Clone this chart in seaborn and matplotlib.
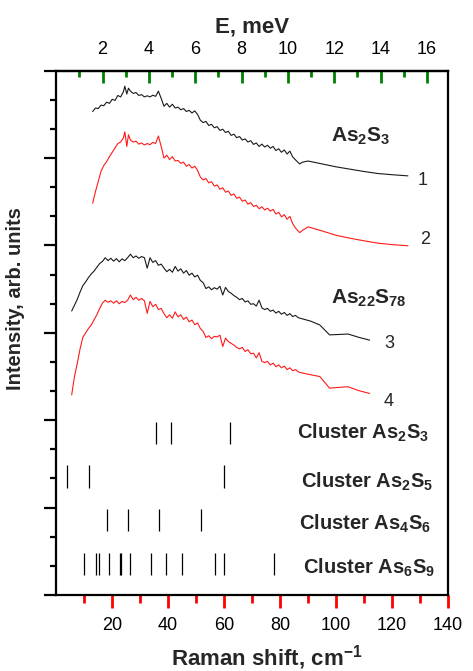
import numpy as np
import pandas as pd
import matplotlib
matplotlib.use("Agg")
import matplotlib.pyplot as plt
from matplotlib.ticker import MultipleLocator, NullFormatter
import seaborn as sns

# ---------------- data ----------------
x_as2s3 = [13, 14, 15, 16, 17, 18, 19, 20, 21, 22, 23, 24, 24.5, 25.2, 25.8,
           26.5, 27.5, 28.5, 29.5, 30.5, 31.5, 32.5, 33.5, 34.5, 35.5, 36.5, 37.5, 38.5, 39.5,
           40.5, 41.5, 42.5, 43.5, 44.5, 45.5, 46.5, 47.5, 48.5, 49.5, 50.5, 51.5, 52.5, 53.5,
           54.5, 55.5, 56.5, 57.5, 58.5, 59.5, 60.5, 61.5, 62.5, 63.5, 64.5, 65.5, 66.5, 67.5,
           68.5, 69.5, 70.5, 71.5, 72.5, 73.5, 74.5, 75.5, 76.5, 77.5, 78.5, 79.5, 80.5, 81.5,
           82.5, 83.5, 84.5, 85.5, 87, 88, 90, 95, 100, 105, 110, 115, 120, 125.7]
y_curve1 = [16.60, 16.72, 16.70, 16.82, 16.80, 16.92, 16.88, 17.02, 16.98, 17.15, 17.10, 17.28,
            17.47, 17.20, 17.40,
            17.30, 17.22, 17.25, 17.15, 17.18, 17.10, 17.14, 17.10, 17.16, 17.12, 17.30, 17.05,
            16.78, 16.88, 16.75, 16.85, 16.72, 16.75, 16.66, 16.70, 16.60, 16.64, 16.55, 16.62,
            16.50, 16.30, 16.22, 16.26, 16.12, 16.16, 16.04, 16.08, 15.95, 15.99, 15.88, 15.92,
            15.78, 15.82, 15.70, 15.74, 15.62, 15.66, 15.55, 15.60, 15.47, 15.52, 15.40, 15.48,
            15.38, 15.44, 15.34, 15.40, 15.26, 15.32, 15.20, 15.28, 15.14, 15.24, 15.04, 14.94,
            14.80, 14.86, 14.90, 14.80, 14.70, 14.62, 14.54, 14.47, 14.43, 14.39]
y_curve2 = [13.45, 13.85, 14.20, 14.55, 14.75, 14.88, 15.05, 15.20, 15.35, 15.50, 15.55, 15.70,
            15.90, 15.40, 15.80,
            15.62, 15.55, 15.58, 15.48, 15.52, 15.45, 15.50, 15.46, 15.54, 15.50, 15.76, 15.40,
            15.00, 15.10, 14.95, 15.05, 14.90, 14.92, 14.82, 14.86, 14.72, 14.78, 14.66, 14.72,
            14.58, 14.35, 14.25, 14.30, 14.15, 14.19, 14.04, 14.08, 13.93, 13.98, 13.83, 13.87,
            13.72, 13.77, 13.62, 13.66, 13.52, 13.56, 13.42, 13.47, 13.34, 13.38, 13.26, 13.33,
            13.22, 13.28, 13.18, 13.24, 13.08, 13.14, 12.98, 13.06, 12.90, 13.00, 12.75, 12.60,
            12.44, 12.52, 12.64, 12.50, 12.35, 12.25, 12.16, 12.08, 12.03, 11.99]

x_as22s78 = [5.5, 6.5, 7.5, 8.5, 9.5, 10.5, 11.5, 12.5, 13.5, 14.5, 15.5, 16.5, 17.5, 18.5,
             19.5, 20.5, 21.5, 22.5, 23.5, 24.5, 25.5, 26.5, 27.5, 28.5, 29.5, 30.5, 31.5, 32.5,
             33.5, 34.5, 35.5, 36.5, 37.5, 38.5, 39.5, 40.5, 41.5, 42.5, 43.5, 44.5, 45.5, 46.5,
             47.5, 48.5, 49.5, 50.5, 51.5, 52.5, 53.5, 54.5, 55.5, 56.5, 57.5, 58.5, 59.5, 60.5,
             61.5, 62.5, 63.5, 64.5, 65.5, 66.5, 67.5, 68.5, 69.5, 70.5, 71.5, 72.5, 73.5, 74.5,
             75.5, 76.5, 77.5, 78.5, 79.5, 80.5, 81.5, 82.5, 83.5, 84.5, 85.5, 86.5,
             88, 91, 94.2, 97.7, 100, 104.3, 108, 112]
y_curve3 = [9.75, 9.95, 10.15, 10.40, 10.62, 10.75, 10.90, 11.02, 11.12, 11.25, 11.38, 11.45,
            11.58, 11.48, 11.56, 11.46, 11.55, 11.44, 11.54, 11.48, 11.58, 11.70, 11.58, 11.64,
            11.56, 11.62, 11.58, 11.22, 11.58, 11.42, 11.48, 11.32, 11.36, 11.22, 11.10, 11.18,
            11.08, 11.28, 11.12, 11.20, 11.05, 11.14, 10.98, 11.05, 10.92, 10.98, 10.80, 10.72,
            10.52, 10.58, 10.48, 10.55, 10.50, 10.60, 10.30, 10.56, 10.42, 10.36, 10.28, 10.22,
            10.14, 10.18, 10.06, 10.10, 9.98, 10.00, 9.92, 10.12, 9.86, 9.80, 9.84, 9.74, 9.78,
            9.68, 9.74, 9.64, 9.70, 9.60, 9.66, 9.56, 9.60, 9.52,
            9.48, 9.40, 9.27, 8.93, 8.94, 8.96, 8.85, 8.75]
y_curve4 = [6.87, 7.50, 7.95, 8.45, 8.85, 9.00, 9.15, 9.27, 9.45, 9.62, 9.84, 10.02,
            10.12, 10.05, 10.10, 10.02, 10.10, 10.00, 10.08, 10.04, 10.12, 10.30, 10.14, 10.22,
            10.12, 10.18, 10.10, 9.67, 10.08, 9.90, 9.98, 9.80, 9.84, 9.66, 9.52, 9.62,
            9.50, 9.72, 9.55, 9.62, 9.46, 9.54, 9.38, 9.44, 9.28, 9.34, 9.15, 9.05,
            8.84, 8.90, 8.80, 8.88, 8.86, 8.92, 8.53, 8.82, 8.70, 8.64, 8.58, 8.50,
            8.45, 8.50, 8.36, 8.42, 8.28, 8.30, 8.14, 8.32, 8.02, 7.98, 8.02, 7.90, 7.96,
            7.84, 7.90, 7.80, 7.86, 7.74, 7.80, 7.70, 7.74, 7.66,
            7.62, 7.56, 7.50, 7.10, 7.12, 7.15, 7.02, 6.92]

curve_labels = ["1", "2", "3", "4"]
sample_labels = [r"As$_{\mathbf{2}}$S$_{\mathbf{3}}$", r"As$_{\mathbf{22}}$S$_{\mathbf{78}}$"]

cluster_names = [r"Cluster As$_{\mathbf{2}}$S$_{\mathbf{3}}$",
                 r"Cluster As$_{\mathbf{2}}$S$_{\mathbf{5}}$",
                 r"Cluster As$_{\mathbf{4}}$S$_{\mathbf{6}}$",
                 r"Cluster As$_{\mathbf{6}}$S$_{\mathbf{9}}$"]
cluster_as2s3 = [35.5, 40.9, 62.0]
cluster_as2s5 = [3.7, 11.6, 60.0]
cluster_as4s6 = [18.1, 25.7, 36.6, 51.9]
cluster_as6s9 = [9.9, 14.1, 15.4, 18.7, 22.6, 23.0, 26.3, 33.7, 39.2, 44.9, 56.6, 60.0, 77.8]
cluster_rows = [(5.2, 5.95), (3.66, 4.46), (2.2, 2.94), (0.69, 1.45)]

bottom_ticks = [20, 40, 60, 80, 100, 120, 140]
bottom_minor = [10, 30, 50, 70, 90, 110, 130]
top_ticks = [2, 4, 6, 8, 10, 12, 14, 16]
top_minor = [1, 3, 5, 7, 9, 11, 13, 15]
CM_PER_MEV = 8.28

# ---------------- style ----------------
sns.set_theme(style="ticks")
plt.rcParams.update({
    "font.family": ["Liberation Sans", "DejaVu Sans"],
    "mathtext.fontset": "custom",
    "mathtext.rm": "Liberation Sans",
    "mathtext.bf": "Liberation Sans:bold",
    "mathtext.it": "Liberation Sans:italic",
})

fig = plt.figure(figsize=(4.73, 6.71), dpi=100)
ax = fig.add_axes([0.119, 0.1133, 0.828, 0.7813])

frames = []
for name, xs, ys in [("c1", x_as2s3, y_curve1), ("c2", x_as2s3, y_curve2),
                     ("c3", x_as22s78, y_curve3), ("c4", x_as22s78, y_curve4)]:
    frames.append(pd.DataFrame({"shift": xs, "intensity": ys, "curve": name}))
df = pd.concat(frames, ignore_index=True)

palette = {"c1": "#1a1a1a", "c2": "#ff1a1a", "c3": "#1a1a1a", "c4": "#ff1a1a"}
sns.lineplot(data=df, x="shift", y="intensity", hue="curve", units="curve",
             estimator=None, sort=False, palette=palette, linewidth=0.8,
             legend=False, ax=ax)

for (y0, y1), pos in zip(cluster_rows, [cluster_as2s3, cluster_as2s5, cluster_as4s6, cluster_as6s9]):
    ax.vlines(pos, y0, y1, color="black", linewidth=0.9)

ax.set_xlim(0, 140)
ax.set_ylim(0, 18)
ax.set_xticks(bottom_ticks)
ax.set_xticks(bottom_minor, minor=True)
ax.yaxis.set_major_locator(MultipleLocator(3))
ax.yaxis.set_minor_locator(MultipleLocator(1))
ax.yaxis.set_major_formatter(NullFormatter())

ax.tick_params(axis="x", which="major", direction="out", length=9.5, width=2,
               labelsize=13, pad=6.5, bottom=True, top=False, colors="red",
               labelcolor="black")
ax.tick_params(axis="x", which="minor", direction="out", length=5.5, width=2,
               bottom=True, top=False, colors="red")
ax.tick_params(axis="y", which="major", direction="out", length=8.5, width=1.6,
               left=True, right=False, colors="black")
ax.tick_params(axis="y", which="minor", direction="out", length=4.5, width=1.6,
               left=True, right=False, colors="black")
for s in ax.spines.values():
    s.set_color("black")
    s.set_linewidth(1.6)

sec = ax.secondary_xaxis("top", functions=(lambda x: x / CM_PER_MEV, lambda e: e * CM_PER_MEV))
sec.set_xticks(top_ticks)
sec.set_xticks(top_minor, minor=True)
sec.tick_params(axis="x", which="major", direction="in", length=8.5, width=2,
                labelsize=13, pad=9, colors="green", labelcolor="black")
sec.tick_params(axis="x", which="minor", direction="in", length=4.5, width=2,
                colors="green")
sec.spines["top"].set_color("black")
sec.spines["top"].set_linewidth(1.6)
sec.set_xlabel("E, meV", fontsize=16, fontweight="bold", labelpad=6)

ax.set_xlabel(r"Raman shift, cm$^{\mathbf{-1}}$", fontsize=16, fontweight="bold")
ax.xaxis.label.set_va("baseline")
ax.xaxis.set_label_coords(0.538, -0.134)
ax.set_ylabel("Intensity, arb. units", fontsize=14.5, fontweight="bold")
ax.yaxis.set_label_coords(-0.08, 0.565)

ax.text(98.1, 15.56, sample_labels[0], fontsize=15, fontweight="bold", va="baseline", ha="left")
ax.text(98.1, 10.01, sample_labels[1], fontsize=15, fontweight="bold", va="baseline", ha="left")
for lab, (cx, cy) in zip(curve_labels, [(130.8, 14.22), (132.0, 12.19), (118.9, 8.62), (118.9, 6.64)]):
    ax.text(cx, cy, lab, fontsize=13, ha="center", va="center")
for lab, (cx, cy) in zip(cluster_names, [(86.1, 5.35), (87.4, 3.70), (86.8, 2.23), (88.2, 0.745)]):
    ax.text(cx, cy, lab, fontsize=14.5, fontweight="bold", ha="left", va="baseline")

fig.savefig("out.png", dpi=100)
